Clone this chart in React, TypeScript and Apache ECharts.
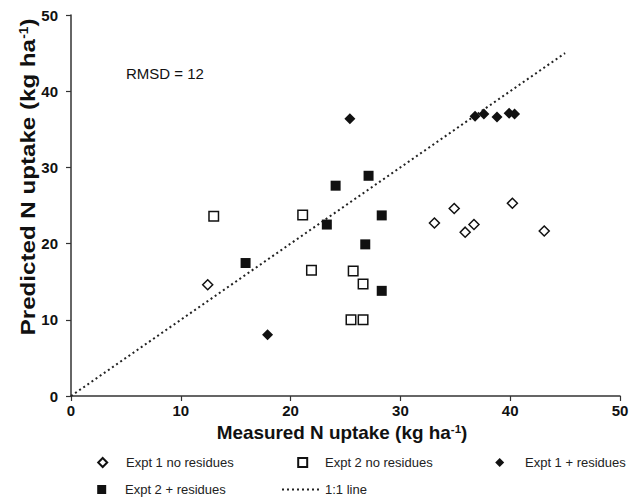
import React, { useEffect, useRef } from "react";
import * as echarts from "echarts";

const FONT = "'Liberation Sans', Arial, Helvetica, sans-serif";

// Data
const expt1NoResidues: [number, number][] = [
  [12.45, 14.6], [33.1, 22.7], [34.9, 24.6], [35.9, 21.5], [36.7, 22.5], [40.2, 25.3], [43.1, 21.65],
];
const expt2NoResidues: [number, number][] = [
  [13.0, 23.6], [21.1, 23.75], [21.9, 16.5], [25.7, 16.4], [26.6, 14.7], [25.5, 10.0], [26.6, 10.0],
];
const expt1Residues: [number, number][] = [
  [17.9, 8.05], [25.4, 36.4], [36.8, 36.7], [37.6, 37.0], [38.8, 36.6], [39.9, 37.1], [40.4, 37.0],
];
const expt2Residues: [number, number][] = [
  [15.9, 17.45], [23.3, 22.5], [24.1, 27.6], [27.1, 28.9], [28.3, 23.7], [26.8, 19.9], [28.3, 13.8],
];
const oneToOneLine: [number, number][] = [[0, 0], [45, 45]];

const seriesNames = [
  "Expt 1 no residues",
  "Expt 2 no residues",
  "Expt 1 + residues",
  "Expt 2 + residues",
  "1:1 line",
];
const rmsdText = "RMSD = 12";

export default function App() {
  const ref = useRef<HTMLDivElement>(null);

  useEffect(() => {
    if (!ref.current) return;
    const chart = echarts.init(ref.current, undefined, { renderer: "svg" });

    const legendBase = {
      orient: "horizontal",
      padding: 0,
      itemHeight: 9,
      itemWidth: 9,
      selectedMode: false,
    };
    const legendText = (padLeft: number) => ({
      fontSize: 13,
      color: "#222",
      fontFamily: FONT,
      padding: [0, 0, 0, padLeft],
    });

    const openStyle = { color: "#fff", borderColor: "#111", borderWidth: 1.5, opacity: 1 };
    const filledStyle = { color: "#111", borderColor: "#111", borderWidth: 0, opacity: 1 };

    chart.setOption({
      animation: false,
      backgroundColor: "#fff",
      grid: { left: 71, right: 17, top: 15, bottom: 102, containLabel: false },
      xAxis: {
        type: "value",
        min: 0,
        max: 50,
        interval: 10,
        axisLine: { show: true, lineStyle: { color: "#333", width: 1.5 } },
        axisTick: { show: true, inside: false, length: 5, lineStyle: { color: "#333", width: 1.2 } },
        splitLine: { show: false },
        axisLabel: { margin: 7, fontSize: 15, fontWeight: "bold", color: "#111", fontFamily: FONT },
      },
      yAxis: {
        type: "value",
        min: 0,
        max: 50,
        interval: 10,
        axisLine: { show: true, lineStyle: { color: "#333", width: 1.5 } },
        axisTick: { show: true, inside: false, length: 5, lineStyle: { color: "#333", width: 1.2 } },
        splitLine: { show: false },
        axisLabel: { margin: 13, fontSize: 15, fontWeight: "bold", color: "#111", fontFamily: FONT },
      },
      legend: [
        { ...legendBase, data: [seriesNames[0]], left: 97.2, top: 456, textStyle: legendText(13.8) },
        { ...legendBase, data: [seriesNames[1]], left: 297.2, top: 456, textStyle: legendText(12.8) },
        { ...legendBase, data: [seriesNames[2]], left: 495.2, top: 456, textStyle: legendText(15.8) },
        { ...legendBase, data: [seriesNames[3]], left: 97.2, top: 483, textStyle: legendText(13.8) },
        {
          ...legendBase,
          data: [seriesNames[4]],
          left: 281,
          top: 483,
          itemWidth: 38,
          textStyle: legendText(0),
          itemStyle: { color: "rgba(0,0,0,0)", borderWidth: 0, opacity: 0 },
        },
      ],
      graphic: [
        {
          type: "text",
          x: 28,
          y: 177,
          rotation: Math.PI / 2,
          scaleX: 1.15,
          style: {
            text: "{m|Predicted N uptake (kg ha}{s|-1}{m|)}",
            align: "center",
            verticalAlign: "middle",
            fill: "#111",
            rich: {
              m: { fontSize: 21, fontWeight: "bold", fontFamily: FONT, fill: "#111" },
              s: { fontSize: 12, fontWeight: "bold", fontFamily: FONT, fill: "#111", verticalAlign: "top" },
            },
          },
        },
        {
          type: "text",
          x: 342,
          y: 433,
          scaleX: 1.05,
          style: {
            text: "{m|Measured N uptake (kg ha}{s|-1}{m|)}",
            align: "center",
            verticalAlign: "middle",
            fill: "#111",
            rich: {
              m: { fontSize: 18, fontWeight: "bold", fontFamily: FONT, fill: "#111" },
              s: { fontSize: 11, fontWeight: "bold", fontFamily: FONT, fill: "#111", verticalAlign: "top" },
            },
          },
        },
        {
          type: "text",
          x: 126,
          y: 73,
          style: {
            text: rmsdText,
            align: "left",
            verticalAlign: "middle",
            fontSize: 15,
            fontFamily: FONT,
            fill: "#111",
          },
        },
      ],
      series: [
        {
          name: seriesNames[4],
          type: "line",
          data: oneToOneLine,
          symbol: "none",
          z: 1,
          lineStyle: { color: "#222", width: 2, type: [2, 3] },
          itemStyle: { color: "#222" },
        },
        {
          name: seriesNames[0],
          type: "scatter",
          data: expt1NoResidues,
          symbol: "diamond",
          symbolSize: 10,
          z: 3,
          itemStyle: openStyle,
        },
        {
          name: seriesNames[1],
          type: "scatter",
          data: expt2NoResidues,
          symbol: "rect",
          symbolSize: 9.5,
          z: 3,
          itemStyle: openStyle,
        },
        {
          name: seriesNames[2],
          type: "scatter",
          data: expt1Residues,
          symbol: "diamond",
          symbolSize: 11,
          z: 3,
          itemStyle: filledStyle,
        },
        {
          name: seriesNames[3],
          type: "scatter",
          data: expt2Residues,
          symbol: "rect",
          symbolSize: 10,
          z: 3,
          itemStyle: filledStyle,
        },
      ],
    });

    return () => chart.dispose();
  }, []);

  return (
    <div
      ref={ref}
      style={{ position: "fixed", left: 0, top: 0, width: 637, height: 498, background: "#fff" }}
    />
  );
}
